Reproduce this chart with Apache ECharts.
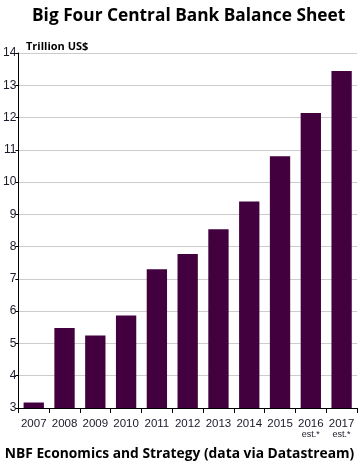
<!DOCTYPE html>
<html><head><meta charset="utf-8">
<script src="https://cdn.jsdelivr.net/npm/echarts@6/dist/echarts.min.js"></script>
<style>html,body{margin:0;padding:0;background:#fff}#c{width:359px;height:465px}</style>
</head><body><div id="c"></div>
<script>
var categories = ['2007','2008','2009','2010','2011','2012','2013','2014','2015','2016','2017'];
var estimated = ['2016','2017'];
var values = [3.17, 5.48, 5.25, 5.87, 7.30, 7.77, 8.54, 9.40, 10.80, 12.14, 13.44];
var yTicks = {min: 3, max: 14, interval: 1};
var titleText = 'Big Four Central Bank Balance Sheet';
var unitText = 'Trillion US$';
var sourceText = 'NBF Economics and Strategy (data via Datastream)';

var chart = echarts.init(document.getElementById('c'), null, {renderer: 'canvas'});
var lab = '"Liberation Sans", Arial, sans-serif';
chart.setOption({
  animation: false,
  backgroundColor: '#fff',
  title: [
    {text: titleText, left: 27, top: 3, textStyle: {fontFamily: '"Open Sans"', fontWeight: 'bold', fontSize: 17.3, color: '#000'}},
    {text: unitText, left: 21, top: 36, textStyle: {fontFamily: '"Open Sans"', fontWeight: 'bold', fontSize: 11, color: '#000'}},
    {text: sourceText, left: 'center', top: 442, textStyle: {fontFamily: '"Open Sans"', fontWeight: 'bold', fontSize: 13.8, color: '#000'}}
  ],
  grid: {left: 18, right: 2, top: 53, bottom: 57, containLabel: false},
  xAxis: {
    type: 'category', data: categories,
    axisLine: {lineStyle: {color: '#000', width: 1}},
    axisTick: {show: true, length: 5, lineStyle: {color: '#000'}, alignWithLabel: false},
    axisLabel: {
      interval: 0, margin: 9, color: '#1a1a2a',
      fontFamily: lab, fontSize: 11.5, lineHeight: 13,
      formatter: function (v) { return estimated.indexOf(v) >= 0 ? v + '\n{e|est.*}' : v; },
      rich: {e: {fontFamily: lab, fontSize: 9, lineHeight: 10, color: '#1a1a2a'}}
    }
  },
  yAxis: {
    type: 'value', min: yTicks.min, max: yTicks.max, interval: yTicks.interval,
    axisLine: {show: true, lineStyle: {color: '#000', width: 1}},
    axisTick: {show: true, length: 3, lineStyle: {color: '#000'}},
    axisLabel: {margin: 2, color: '#1a1a2a', fontFamily: lab, fontSize: 12},
    splitLine: {show: true, lineStyle: {color: '#cccccc', width: 1}}
  },
  series: [{
    type: 'bar', data: values, barCategoryGap: '34%',
    itemStyle: {color: '#43003E'}
  }]
});
</script></body></html>
